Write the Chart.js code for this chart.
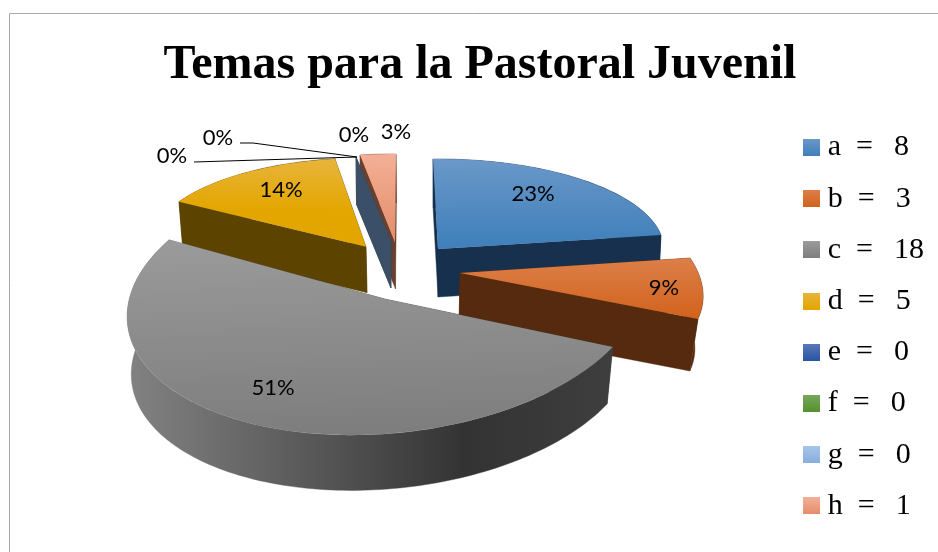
<!DOCTYPE html>
<html><head><meta charset="utf-8">
<style>html,body{margin:0;padding:0;background:#fff;overflow:hidden}canvas{display:block}</style>
<script src="https://cdn.jsdelivr.net/npm/chart.js@4"></script></head>
<body><canvas id="c" width="938" height="552"></canvas>
<script>
const chartTitle = 'Temas para la Pastoral Juvenil';
const categories = ['a','b','c','d','e','f','g','h'];
const values = [8,3,18,5,0,0,0,1];

// styles
const topStops = [
  ['#6a98c9','#3f7fba'],['#dc7f49','#d2621c'],['#9b9b9b','#7d7d7d'],['#e8b53e','#e3a600'],
  ['#5a78b6','#2a55a5'],['#78a65e','#559130'],['#a6c5ea','#88aedd'],['#f3b096','#e48c6a']
];
const wallColors = ['#17304e','#552a0e','#333333','#5c4400','#2b3f63','#35542a','#3c4f68','#6b3f30'];
const greyWallStops = [[0,'#828282'],[0.4,'#565656'],[0.7,'#333333'],[1,'#3e3e3e']];
// exploded 3D placement of each slice: apex, ellipse matrix [A,B,C,D], extrusion offset and shrink, gradient range
const poses = [
  {ax:438,ay:249,m:[225.7,5,-2,90],off:[0,48],k:.99,g:[-1,0]},
  {ax:460,ay:273,m:[238.5,47.5,.5,115.8],off:[-1,53.4],k:.97,g:[-.134,.393]},
  {ax:385,ay:299,m:[257,-22,-6,136],off:[-1,58],k:.98,g:[-.5,1]},
  {ax:366,ay:246.7,m:[216.6,-7.8,3.3,88.9],off:[1,46],k:.985,g:[-1,-.4]},
  {ax:391,ay:242,m:[196,0,0,86.4],off:[0,46],k:.985,g:[-1,0]},
  {ax:391,ay:242,m:[196,0,0,86.4],off:[0,46],k:.985,g:[-1,0]},
  {ax:391,ay:242,m:[196,0,0,86.4],off:[0,46],k:.985,g:[-1,0]},
  {ax:395,ay:242,m:[201.5,-1,2.2,88],off:[.5,47],k:.98,g:[-1,0]}
];
const paintOrder = [0,7,4,5,6,3,1,2];
const labelSpots = [[533,194],[664,288],[273,388],[281,190],[172,156],[218,138],[354,135],[396,132]];
const leaders = [[[194,162],[357,157]],[[240,143],[253,143],[357,157]]];

function swatch(stops){
  const s=document.createElement('canvas');s.width=17;s.height=17;
  const x=s.getContext('2d');const g=x.createLinearGradient(0,0,0,17);
  g.addColorStop(0,stops[0]);g.addColorStop(1,stops[1]);x.fillStyle=g;x.fillRect(0,0,17,17);return s;
}
const swatches = topStops.map(swatch);

function pt(p,t,bottom){
  const c=Math.cos(t),s=Math.sin(t),k=bottom?p.k:1;
  const dx=(p.m[0]*c+p.m[1]*s)*k,dy=(p.m[2]*c+p.m[3]*s)*k;
  return bottom?[p.ax+p.off[0]+dx,p.ay+p.off[1]+dy]:[p.ax+dx,p.ay+dy];
}
function poly(ctx,pts,fill){
  ctx.beginPath();pts.forEach((q,i)=>i?ctx.lineTo(q[0],q[1]):ctx.moveTo(q[0],q[1]));
  ctx.closePath();ctx.fillStyle=fill;ctx.fill();ctx.strokeStyle=fill;ctx.lineWidth=.4;ctx.stroke();
}
function cutWall(ctx,p,t,fill){
  poly(ctx,[[p.ax,p.ay],pt(p,t,false),pt(p,t,true),[p.ax+p.off[0],p.ay+p.off[1]]],fill);
}
const piePlugin = {
  id:'pie3d',
  beforeDraw(chart){
    const ctx=chart.ctx;ctx.save();ctx.strokeStyle='#a8a8a8';ctx.lineWidth=1;ctx.beginPath();
    ctx.moveTo(9.5,552);ctx.lineTo(9.5,13.5);ctx.lineTo(938,13.5);ctx.stroke();ctx.restore();
  },
  beforeDatasetDraw(chart,args){
    const ctx=chart.ctx,meta=args.meta;
    paintOrder.forEach(i=>{
      const arc=meta.data[i],p=poses[i],a0=arc.startAngle,a1=arc.endAngle;
      let wall=wallColors[i];
      if(i===2){
        wall=ctx.createLinearGradient(128,0,610,0);
        greyWallStops.forEach(s=>wall.addColorStop(s[0],s[1]));
      }
      cutWall(ctx,p,a0,wall);
      if(a1>a0){
        cutWall(ctx,p,a1,wall);
        const top=[],bot=[],n=Math.max(4,Math.ceil((a1-a0)*40));
        for(let j=0;j<=n;j++){const t=a0+(a1-a0)*j/n;top.push(pt(p,t,false));bot.unshift(pt(p,t,true));}
        poly(ctx,top.concat(bot),wall);
        const R=arc.outerRadius,m=p.m;
        ctx.save();
        ctx.transform(m[0]/R,m[2]/R,m[1]/R,m[3]/R,
          p.ax-(m[0]*arc.x+m[1]*arc.y)/R,p.ay-(m[2]*arc.x+m[3]*arc.y)/R);
        arc.draw(ctx);
        ctx.restore();
      }
    });
    return false;
  },
  afterDatasetsDraw(chart){
    const ctx=chart.ctx,total=values.reduce((a,b)=>a+b,0);
    ctx.save();
    ctx.strokeStyle='#000';ctx.lineWidth=1;
    leaders.forEach(l=>{ctx.beginPath();l.forEach((q,i)=>i?ctx.lineTo(q[0],q[1]):ctx.moveTo(q[0],q[1]));ctx.stroke();});
    ctx.fillStyle='#000';ctx.font='22px Lato';ctx.textAlign='center';ctx.textBaseline='middle';
    values.forEach((v,i)=>ctx.fillText(Math.round(v/total*100)+'%',labelSpots[i][0],labelSpots[i][1]));
    ctx.restore();
  }
};

new Chart(document.getElementById('c'),{
  type:'pie',
  data:{labels:categories,datasets:[{data:values,borderWidth:0,
    backgroundColor(c){
      const a=c.chart.chartArea,i=c.dataIndex;
      if(!a||i===undefined)return topStops[i||0][1];
      const cy=(a.top+a.bottom)/2,R=Math.min(a.right-a.left,a.bottom-a.top)/2,gp=poses[i].g;
      const g=c.chart.ctx.createLinearGradient(0,cy+R*gp[0],0,cy+R*gp[1]);
      g.addColorStop(0,topStops[i][0]);g.addColorStop(1,topStops[i][1]);
      return g;
    }}]},
  plugins:[piePlugin],
  options:{
    responsive:false,animation:false,
    layout:{padding:{left:26,right:4,top:0,bottom:0}},
    events:[],
    plugins:{
      tooltip:{enabled:false},
      title:{display:true,text:chartTitle,color:'#000',
        font:{family:'Liberation Serif',size:48,weight:'bold',lineHeight:1.1},
        padding:{top:39,bottom:19.5}},
      legend:{position:'right',align:'start',fullSize:false,
        labels:{
          color:'#000',font:{family:'Liberation Serif',size:30,lineHeight:1},
          usePointStyle:true,pointStyleWidth:3,padding:21.2,boxWidth:17,boxHeight:17,
          generateLabels(){
            return categories.map((c,i)=>({text:c+'  =  \u2009'+values[i],pointStyle:swatches[i],
              fillStyle:topStops[i][1],strokeStyle:topStops[i][1],lineWidth:0,fontColor:'#000',index:i,hidden:false}));
          }
        }}
    }
  }
});
</script></body></html>
